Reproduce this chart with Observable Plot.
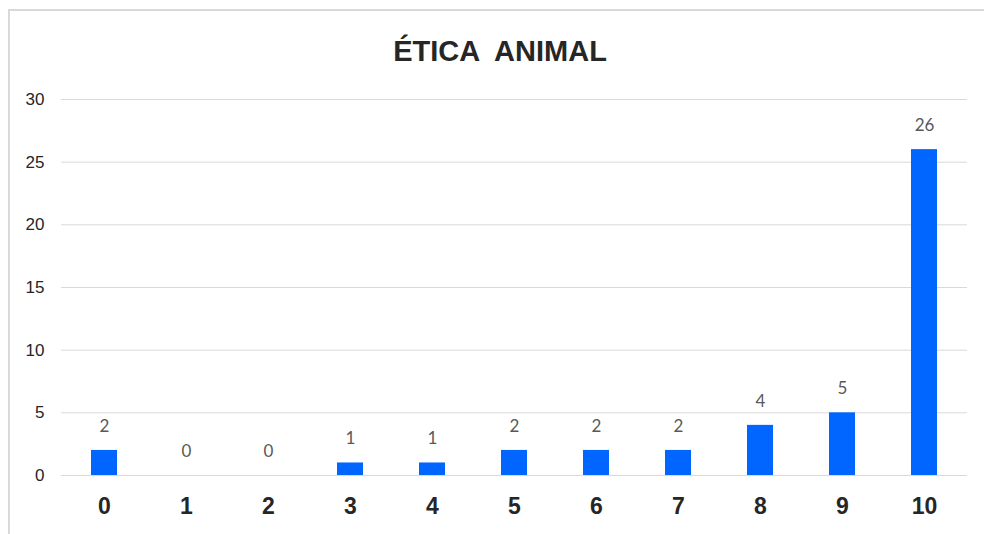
<!DOCTYPE html>
<html>
<head>
<meta charset="utf-8">
<script src="https://cdn.jsdelivr.net/npm/d3@7"></script>
<script src="https://cdn.jsdelivr.net/npm/@observablehq/plot@0.6"></script>
<style>
  html, body { margin: 0; padding: 0; background: #fff; overflow: hidden; }
  #wrap { position: relative; width: 984px; height: 534px; overflow: hidden; }
  #frame { position: absolute; left: 8px; top: 9px; width: 1100px; height: 700px; border: 2px solid #d9d9d9; box-sizing: border-box; }
  #title { position: absolute; left: 0; top: 0; width: 1000px; height: 80px; text-align: center;
           font-family: "Liberation Sans", Arial, sans-serif; font-weight: bold; font-size: 29px; color: #262626;
           white-space: pre; line-height: 1; padding-top: 37px; box-sizing: border-box; }
  #chart { position: absolute; left: 0; top: 80px; }
</style>
</head>
<body>
<div id="wrap">
  <div id="frame"></div>
  <div id="title">ÉTICA  ANIMAL</div>
  <div id="chart"></div>
</div>
<script>
const categories = ["0","1","2","3","4","5","6","7","8","9","10"];
const values = [2,0,0,1,1,2,2,2,4,5,26];
const yTicks = [0,5,10,15,20,25,30];

const data = categories.map((c, i) => ({cat: c, v: values[i]}));

const chart = Plot.plot({
  width: 984,
  height: 454,
  marginLeft: 61,
  marginRight: 17,
  marginTop: 19,
  marginBottom: 59,
  style: {fontFamily: "'Liberation Sans', Arial, sans-serif", background: "transparent", overflow: "visible"},
  x: {domain: categories, paddingInner: 0.685, paddingOuter: 0.3425, label: null},
  y: {domain: [0, 30], label: null},
  marks: [
    Plot.gridY(yTicks, {stroke: "#d9d9d9", strokeOpacity: 1, strokeWidth: 1}),
    Plot.barY(data, {x: "cat", y: "v", fill: "#0066ff"}),
    Plot.text(data, {x: "cat", y: "v", text: d => String(d.v), dy: -24, lineAnchor: "middle",
      fill: "#595959", fontSize: 17, fontFamily: "Lato, 'Open Sans', sans-serif"}),
    Plot.axisY(yTicks, {tickSize: 0, tickPadding: 17, fontSize: 17, fill: "#262626", label: null}),
    Plot.axisX({tickSize: 0, tickPadding: 22, fontSize: 23, fontWeight: "bold", fill: "#262626", label: null})
  ]
});
document.getElementById("chart").appendChild(chart);
</script>
</body>
</html>
